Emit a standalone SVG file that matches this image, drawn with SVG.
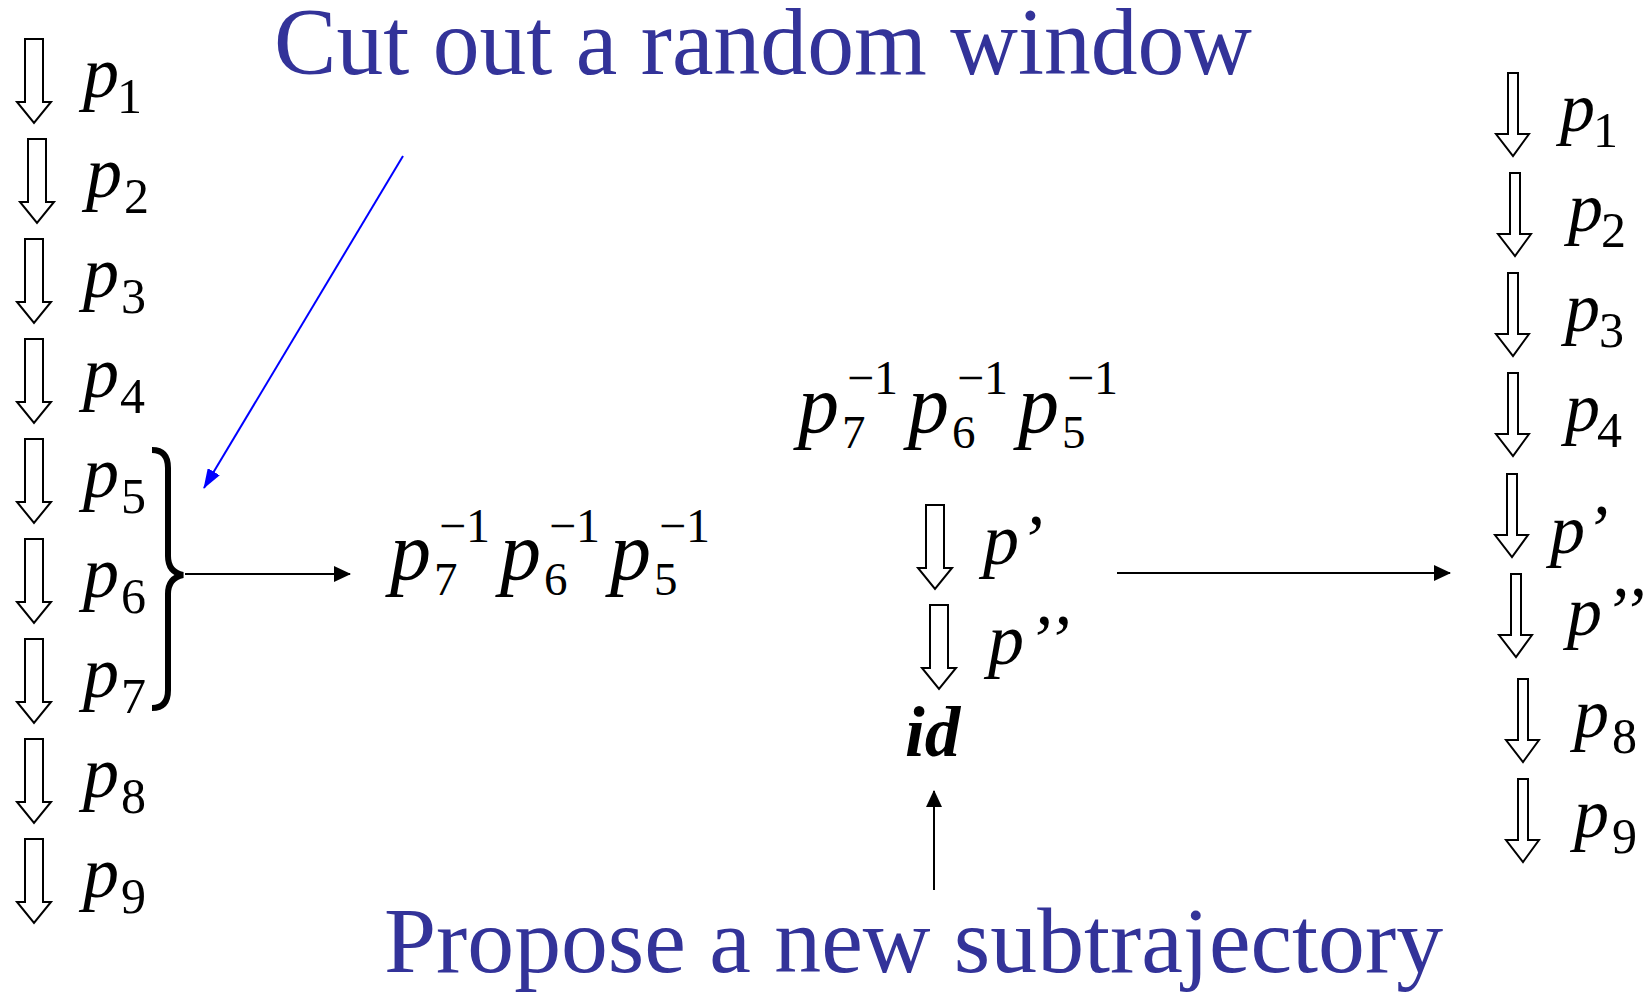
<svg xmlns="http://www.w3.org/2000/svg" width="1650" height="993" viewBox="0 0 1650 993">
<defs>
<style>
text{font-family:"Liberation Serif","Times New Roman",serif;fill:#000}
.t{fill:#333399}
.pi{font-style:italic}
.ba{fill:#fff;stroke:#000;stroke-width:2}
.ln{stroke:#000;stroke-width:2;fill:none}
</style>
<marker id="ah" markerWidth="17" markerHeight="16" refX="16" refY="8" orient="auto" markerUnits="userSpaceOnUse" viewBox="0 0 17 16">
<path d="M0,0 L17,8 L0,16 Z" fill="#000"/>
</marker>
<marker id="ahb" markerWidth="20" markerHeight="14" refX="19" refY="7" orient="auto" markerUnits="userSpaceOnUse" viewBox="0 0 20 14">
<path d="M0,0 L20,7 L0,14 Z" fill="#0000ff"/>
</marker>
<path id="bl" d="M-9,0 H9 V63 H17 L0,84 L-17,63 H-9 Z"/>
<path id="br" d="M-4,0 H6 V61 H17 L1,83 L-16,61 H-4 Z"/>
</defs>
<rect width="1650" height="993" fill="#fff"/>

<text id="title" class="t" x="274" y="74" font-size="95" textLength="978" lengthAdjust="spacingAndGlyphs">Cut out a random window</text>
<text id="bottom" class="t" x="384" y="972" font-size="94" textLength="1059" lengthAdjust="spacingAndGlyphs">Propose a new subtrajectory</text>

<g id="left-column">
<g id="L1"><use href="#bl" class="ba" x="34" y="39"/><text class="pi" x="83" y="97" font-size="72">p</text><text x="117" y="113" font-size="50">1</text></g>
<g id="L2"><use href="#bl" class="ba" x="37" y="139"/><text class="pi" x="86" y="197" font-size="72">p</text><text x="124" y="213" font-size="50">2</text></g>
<g id="L3"><use href="#bl" class="ba" x="34" y="239"/><text class="pi" x="83" y="297" font-size="72">p</text><text x="121" y="313" font-size="50">3</text></g>
<g id="L4"><use href="#bl" class="ba" x="34" y="339"/><text class="pi" x="83" y="397" font-size="72">p</text><text x="120" y="413" font-size="50">4</text></g>
<g id="L5"><use href="#bl" class="ba" x="34" y="439"/><text class="pi" x="83" y="497" font-size="72">p</text><text x="121" y="513" font-size="50">5</text></g>
<g id="L6"><use href="#bl" class="ba" x="34" y="539"/><text class="pi" x="83" y="597" font-size="72">p</text><text x="121" y="613" font-size="50">6</text></g>
<g id="L7"><use href="#bl" class="ba" x="34" y="639"/><text class="pi" x="83" y="697" font-size="72">p</text><text x="121" y="713" font-size="50">7</text></g>
<g id="L8"><use href="#bl" class="ba" x="34" y="739"/><text class="pi" x="83" y="797" font-size="72">p</text><text x="121" y="813" font-size="50">8</text></g>
<g id="L9"><use href="#bl" class="ba" x="34" y="839"/><text class="pi" x="83" y="897" font-size="72">p</text><text x="121" y="913" font-size="50">9</text></g>
</g>

<g id="brace">
<path d="M152,450 Q168,450 168,468 L168,556 Q168,572 183,575 Q168,578 168,594 L168,690 Q168,708 152,708" fill="none" stroke="#000" stroke-width="6"/>
</g>

<g id="expr-left" transform="translate(387,579)">
<text class="pi" x="3" y="0" font-size="82">p</text><text x="47" y="16" font-size="47">7</text><text x="52" y="-37" font-size="48">−1</text>
<text class="pi" x="113" y="0" font-size="82">p</text><text x="157" y="16" font-size="47">6</text><text x="162" y="-37" font-size="48">−1</text>
<text class="pi" x="223" y="0" font-size="82">p</text><text x="267" y="16" font-size="47">5</text><text x="272" y="-37" font-size="48">−1</text>
</g>

<g id="expr-middle" transform="translate(795,432)">
<text class="pi" x="3" y="0" font-size="82">p</text><text x="47" y="16" font-size="47">7</text><text x="52" y="-38" font-size="48">−1</text>
<text class="pi" x="113" y="0" font-size="82">p</text><text x="157" y="16" font-size="47">6</text><text x="162" y="-38" font-size="48">−1</text>
<text class="pi" x="223" y="0" font-size="82">p</text><text x="267" y="16" font-size="47">5</text><text x="272" y="-38" font-size="48">−1</text>
</g>

<g id="middle-column">
<g id="M1"><use href="#bl" class="ba" x="935" y="505"/><text class="pi" x="983" y="564" font-size="72">p’</text></g>
<g id="M2"><use href="#bl" class="ba" x="939" y="605"/><text class="pi" x="988" y="664" font-size="72" letter-spacing="3">p’’</text></g>
<g id="M3"><text x="905" y="756" font-size="71" font-weight="bold" font-style="italic">id</text></g>
</g>

<g id="right-column">
<g id="R1"><use href="#br" class="ba" x="1512" y="73"/><text class="pi" x="1560" y="131" font-size="70">p</text><text x="1593" y="147" font-size="50">1</text></g>
<g id="R2"><use href="#br" class="ba" x="1514" y="173"/><text class="pi" x="1568" y="231" font-size="70">p</text><text x="1601" y="247" font-size="50">2</text></g>
<g id="R3"><use href="#br" class="ba" x="1512" y="273"/><text class="pi" x="1565" y="331" font-size="70">p</text><text x="1599" y="347" font-size="50">3</text></g>
<g id="R4"><use href="#br" class="ba" x="1512" y="373"/><text class="pi" x="1565" y="431" font-size="70">p</text><text x="1597" y="447" font-size="50">4</text></g>
<g id="R5"><use href="#br" class="ba" x="1511" y="474"/><text class="pi" x="1550" y="553" font-size="70">p’</text></g>
<g id="R6"><use href="#br" class="ba" x="1515" y="574"/><text class="pi" x="1567" y="635" font-size="70" letter-spacing="2">p’’</text></g>
<g id="R8"><use href="#br" class="ba" x="1522" y="679"/><text class="pi" x="1574" y="737" font-size="70">p</text><text x="1612" y="753" font-size="50">8</text></g>
<g id="R9"><use href="#br" class="ba" x="1522" y="779"/><text class="pi" x="1574" y="837" font-size="70">p</text><text x="1612" y="853" font-size="50">9</text></g>
</g>

<g id="connectors">
<line class="ln" x1="185" y1="574" x2="350" y2="574" marker-end="url(#ah)"/>
<line class="ln" x1="1117" y1="573" x2="1450" y2="573" marker-end="url(#ah)"/>
<line class="ln" x1="934" y1="890" x2="934" y2="791" marker-end="url(#ah)"/>
<line x1="403" y1="156" x2="204" y2="488" stroke="#0000ff" stroke-width="2" marker-end="url(#ahb)"/>
</g>
</svg>
